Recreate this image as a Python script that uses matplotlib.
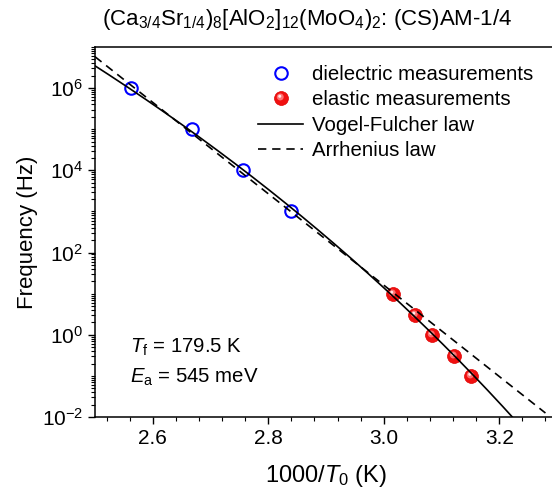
import numpy as np
import matplotlib
matplotlib.use('Agg')
import matplotlib.pyplot as plt
from matplotlib.path import Path
from matplotlib.ticker import (LogLocator, FixedLocator, MultipleLocator,
                               NullFormatter, FormatStrFormatter)

plt.rcParams['font.family'] = ['Liberation Sans', 'DejaVu Sans']
plt.rcParams['mathtext.fontset'] = 'custom'
plt.rcParams['mathtext.rm'] = 'Liberation Sans'
plt.rcParams['mathtext.it'] = 'Liberation Sans:italic'
plt.rcParams['mathtext.default'] = 'regular'

# dielectric data (1000/T, Hz)
diel_x = [2.562, 2.668, 2.756, 2.840]
diel_f = [1e6, 1e5, 1e4, 1e3]

# elastic data
elas_x = [3.016, 3.054, 3.084, 3.121, 3.151]
elas_f = [10, 3, 1, 0.3, 0.1]

# Vogel-Fulcher parameters
Tf = 179.5       # K
Ea = 0.545       # eV
f0_vf = 1.0e19   # Hz
kB = 8.617e-5    # eV/K

# Arrhenius line end points
arr_x = [2.50, 3.28]
arr_f = [5.8e6, 1.25e-2]

x_vf = np.linspace(2.49, 3.26, 300)
T_vf = 1000.0 / x_vf
f_vf = f0_vf * np.exp(-Ea / (kB * (T_vf - Tf)))

fig = plt.figure(figsize=(5.52, 4.91), dpi=100)
ax = fig.add_axes([95 / 552, 74 / 491, 462 / 552, 370 / 491])

# sphere-like marker: red ball with a light spot up-left
def spot(cx, cy, r):
    circ = Path.circle((cx, cy), r)
    verts = np.vstack([[[1, 1], [-1, -1]], circ.vertices])
    codes = np.concatenate([[Path.MOVETO, Path.MOVETO], circ.codes])
    return Path(verts, codes)

ax.plot(diel_x, diel_f, 'o', ls='none', mfc='none', mec='#0000ff', mew=1.5, ms=9,
        zorder=2, label='dielectric measurements')
ball, = ax.plot(elas_x, elas_f, 'o', ls='none', mfc='#f01010', mec='#e00000', mew=0.5,
                ms=10, zorder=2)
glow, = ax.plot(elas_x, elas_f, ls='none', marker=spot(-0.18, 0.22, 0.5), mfc='#ff7070',
                mew=0, ms=10, zorder=2)
shine, = ax.plot(elas_x, elas_f, ls='none', marker=spot(-0.25, 0.32, 0.22), mfc='#ffe8e8',
                 mew=0, ms=10, zorder=2)
ax.plot(x_vf, f_vf, '-', color='black', lw=1.2, zorder=3, label='Vogel-Fulcher law')
ax.plot(arr_x, arr_f, color='black', lw=1.2, ls=(0, (5, 3.5)), zorder=3,
        label='Arrhenius law')

ax.set_yscale('log')
ax.set_xlim(2.5, 3.3)
ax.set_ylim(1e-2, 1e7)

ax.xaxis.set_major_locator(MultipleLocator(0.2))
ax.xaxis.set_minor_locator(MultipleLocator(0.04))
ax.xaxis.set_major_formatter(FormatStrFormatter('%.1f'))
ax.yaxis.set_major_locator(FixedLocator([1e-2, 1e0, 1e2, 1e4, 1e6]))
ax.yaxis.set_minor_locator(LogLocator(base=10, subs=np.arange(1, 10), numticks=20))
ax.yaxis.set_minor_formatter(NullFormatter())

ax.tick_params(axis='both', which='major', direction='out', length=5, width=1,
               labelsize=15, top=False, right=False)
ax.tick_params(axis='both', which='minor', direction='out', length=3, width=0.8,
               top=False, right=False)
for s in ax.spines.values():
    s.set_linewidth(1.1)
ax.spines['right'].set_visible(False)

ax.set_xlabel('1000/$\\mathit{T}_0$ (K)', fontsize=17, labelpad=11)
ax.set_ylabel('Frequency (Hz)', fontsize=16, labelpad=3)

handles, labels = ax.get_legend_handles_labels()
handles.insert(1, (ball, glow, shine))
labels.insert(1, 'elastic measurements')
ax.legend(handles, labels, loc='upper left', bbox_to_anchor=(0.353, 0.952),
          frameon=False, fontsize=14.7, handlelength=2.2, handletextpad=0.45,
          labelspacing=0.32, borderpad=0, borderaxespad=0)

ax.text(130, 491 - 347, '$\\mathit{T}_\\mathrm{f}$ = 179.5 K', transform=None,
        fontsize=14.7, va='center', ha='left')
ax.text(130, 491 - 377, '$\\mathit{E}_\\mathrm{a}$ = 545 meV', transform=None,
        fontsize=14.7, va='center', ha='left')

fig.text(307 / 552, 1 - 19 / 491,
         '(Ca$_{3/4}$Sr$_{1/4}$)$_8$[AlO$_2$]$_{12}$(MoO$_4$)$_2$: (CS)AM-1/4',
         ha='center', va='center', fontsize=16)

fig.savefig('out.png', dpi=100)
